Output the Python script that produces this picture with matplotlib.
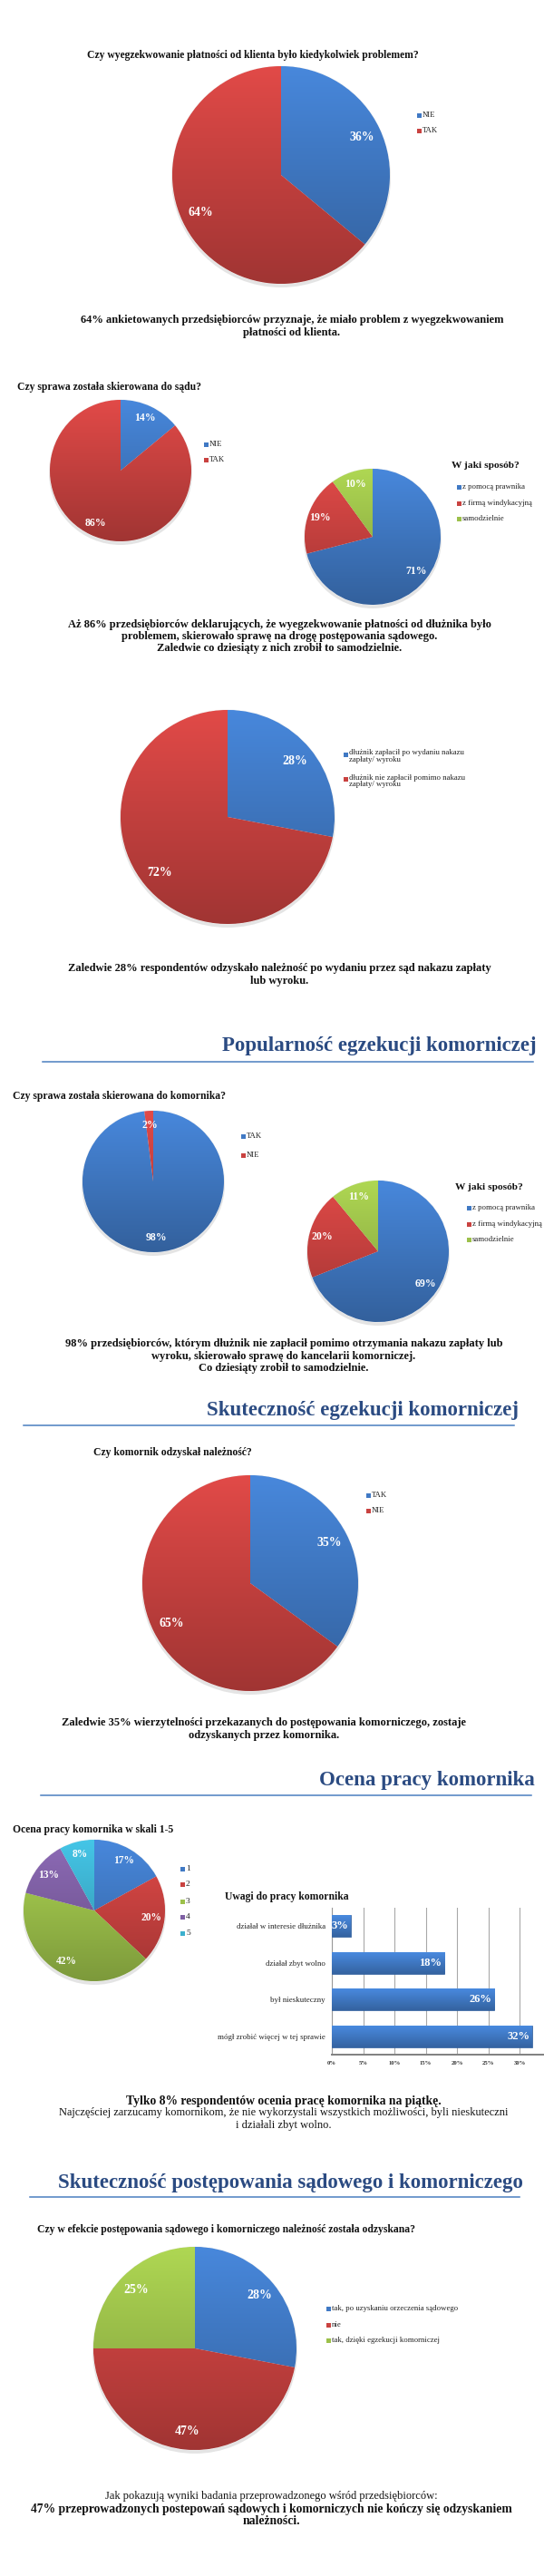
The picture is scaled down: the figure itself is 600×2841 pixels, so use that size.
import numpy as np
import matplotlib
matplotlib.use("Agg")
import matplotlib.pyplot as plt
from matplotlib.patches import Rectangle, Circle
from matplotlib.colors import to_rgb

# ---------------- data ----------------
p1_labels = ["NIE", "TAK"]
p1_values = [36, 64]

p2_labels = ["NIE", "TAK"]
p2_values = [14, 86]

p3_labels = ["z pomocą prawnika", "z firmą windykacyjną", "samodzielnie"]
p3_values = [71, 19, 10]

p4_labels = ["dłużnik zapłacił po wydaniu nakazu\nzapłaty/ wyroku",
             "dłużnik nie zapłacił pomimo nakazu\nzapłaty/ wyroku"]
p4_values = [28, 72]

p5_labels = ["TAK", "NIE"]
p5_values = [98, 2]

p6_labels = ["z pomocą prawnika", "z firmą windykacyjną", "samodzielnie"]
p6_values = [69, 20, 11]

p7_labels = ["TAK", "NIE"]
p7_values = [35, 65]

p8_labels = ["1", "2", "3", "4", "5"]
p8_values = [17, 20, 42, 13, 8]

bar_labels = ["działał w interesie dłużnika", "działał zbyt wolno",
              "był nieskuteczny", "mógł zrobić więcej w tej sprawie"]
bar_values = [3, 18, 26, 32]
bar_ticks = [0, 5, 10, 15, 20, 25, 30]

p9_labels = ["tak, po uzyskaniu orzeczenia sądowego", "nie",
             "tak, dzięki egzekucji komorniczej"]
p9_values = [28, 47, 25]

# ---------------- style ----------------
BLUE, RED, GREEN, PURPLE, CYAN = "#4079C4", "#C94240", "#9CC04A", "#7E5FA3", "#3DB0CE"
HEAD = "#2B4B82"
LINE = "#4A7EC0"
SERIF = ["Liberation Serif", "DejaVu Serif"]
plt.rcParams["font.family"] = SERIF

W, H = 600, 2841
fig = plt.figure(figsize=(W / 100, H / 100), dpi=100)
fig.patch.set_facecolor("white")
bg = fig.add_axes([0, 0, 1, 1])
bg.set_xlim(0, W)
bg.set_ylim(H, 0)
bg.axis("off")


def px_axes(x0, y0, w, h):
    return fig.add_axes([x0 / W, 1 - (y0 + h) / H, w / W, h / H])


def shade(c, f):
    return np.clip(np.array(to_rgb(c)) * f, 0, 1)


def gradient_fill(ax, patch, color, extent, top=1.12, bottom=0.80):
    n = 64
    t = np.linspace(0, 1, n)[:, None]
    img = shade(color, top)[None, :] * (1 - t)[..., None] + shade(color, bottom)[None, :] * t[..., None]
    img = np.clip(img, 0, 1)
    im = ax.imshow(img, extent=extent, origin="upper", aspect="auto",
                   zorder=patch.get_zorder() + 0.1, interpolation="bilinear")
    im.set_clip_path(patch)


def draw_pie(cx, cy, r, values, colors, fs, dist=0.82):
    ax = px_axes(cx - r - 4, cy - r - 4, 2 * r + 8, 2 * r + 8)
    ax.add_patch(Circle((0, -3.0 / r), 1.0 + 1.0 / r, facecolor="#cfcfcf", edgecolor="none",
                        alpha=0.55, zorder=0))
    wedges, _ = ax.pie(values, colors=colors, startangle=90, counterclock=False,
                       radius=1, wedgeprops=dict(edgecolor="#f2f2f2", linewidth=0.7))
    for w, c in zip(wedges, colors):
        gradient_fill(ax, w, c, (-1, 1, -1, 1))
    for w, v in zip(wedges, values):
        a = np.deg2rad((w.theta1 + w.theta2) / 2)
        ax.text(dist * np.cos(a), dist * np.sin(a), f"{v}%", ha="center", va="center",
                color="white", fontsize=fs, fontweight="bold", zorder=10)
    lim = 1 + 4 / r
    ax.set_xlim(-lim, lim)
    ax.set_ylim(-lim, lim)
    ax.set_aspect("equal")
    ax.axis("off")
    return ax


def legend(x, ys, labels, colors, fs=6.3):
    for y, lab, c in zip(ys, labels, colors):
        bg.add_patch(Rectangle((x, y - 2.5), 5, 5, facecolor=c, edgecolor="none"))
        bg.text(x + 6, y, lab, ha="left", va="center", fontsize=fs, color="#222222")


def caption(cx, ys, lines, fs=9.0, weights=None):
    for i, (y, t) in enumerate(zip(ys, lines)):
        wgt = "bold" if weights is None else weights[i]
        bg.text(cx, y, t, ha="center", va="center", fontsize=fs if not isinstance(fs, list) else fs[i],
                fontweight=wgt, color="#111111")


def heading(xr, y, text, x0, x1, ly):
    bg.text(xr, y, text, ha="right", va="center", fontsize=16.5, fontweight="bold", color=HEAD)
    bg.plot([x0, x1], [ly, ly], color=LINE, lw=1.1)


def title(x, y, text, fs=8.4, ha="left"):
    bg.text(x, y, text, ha=ha, va="center", fontsize=fs, fontweight="bold", color="#111111")


# ---------------- section 1 ----------------
title(279, 61, "Czy wyegzekwowanie płatności od klienta było kiedykolwiek problemem?", ha="center")
draw_pie(310, 193, 120, p1_values, [BLUE, RED], 10)
legend(460, [127, 144], p1_labels, [BLUE, RED])
caption(322, [353, 367], ["64% ankietowanych przedsiębiorców przyznaje, że miało problem z wyegzekwowaniem",
                          "płatności od klienta."])

# ---------------- section 2 ----------------
title(19, 427, "Czy sprawa została skierowana do sądu?")
draw_pie(133, 519, 78, p2_values, [BLUE, RED], 8.5)
legend(225, [490, 507], p2_labels, [BLUE, RED])
draw_pie(411, 592, 75, p3_values, [BLUE, RED, GREEN], 8.5)
title(498, 514, "W jaki sposób?", fs=8.2)
legend(504, [537, 555, 572], p3_labels, [BLUE, RED, GREEN])
caption(308, [689, 702, 715], ["Aż 86% przedsiębiorców deklarujących, że wyegzekwowanie płatności od dłużnika było",
                               "problemem, skierowało sprawę na drogę postępowania sądowego.",
                               "Zaledwie co dziesiąty z nich zrobił to samodzielnie."])

# ---------------- section 3 ----------------
draw_pie(251, 901, 118, p4_values, [BLUE, RED], 10)
for y, lab, c in zip([832, 859], p4_labels, [BLUE, RED]):
    bg.add_patch(Rectangle((379, y - 2.5), 5, 5, facecolor=c, edgecolor="none"))
    bg.text(385, y - 5.5, lab, ha="left", va="top", fontsize=6.3, color="#222222", linespacing=0.95)
caption(308, [1068, 1082], ["Zaledwie 28% respondentów odzyskało należność po wydaniu przez sąd nakazu zapłaty",
                            "lub wyroku."])
heading(592, 1154, "Popularność egzekucji komorniczej", 47, 588, 1171)

# ---------------- section 4 ----------------
title(14, 1209, "Czy sprawa została skierowana do komornika?")
draw_pie(169, 1303, 78, p5_values, [BLUE, RED], 8.5, dist=0.8)
legend(266, [1253, 1274], p5_labels, [BLUE, RED])
draw_pie(417, 1380, 78, p6_values, [BLUE, RED, GREEN], 8.5)
title(502, 1309, "W jaki sposób?", fs=8.2)
legend(515, [1332, 1350, 1367], p6_labels, [BLUE, RED, GREEN])
caption(313, [1482, 1496, 1509], ["98% przedsiębiorców, którym dłużnik nie zapłacił pomimo otrzymania nakazu zapłaty lub",
                                  "wyroku, skierowało sprawę do kancelarii komorniczej.",
                                  "Co dziesiąty zrobił to samodzielnie."])
heading(572, 1555, "Skuteczność egzekucji komorniczej", 26, 567, 1572)

# ---------------- section 5 ----------------
title(103, 1602, "Czy komornik odzyskał należność?")
draw_pie(276, 1746, 119, p7_values, [BLUE, RED], 10)
legend(404, [1649, 1666], p7_labels, [BLUE, RED])
caption(291, [1900, 1914], ["Zaledwie 35% wierzytelności przekazanych do postępowania komorniczego, zostaje",
                            "odzyskanych przez komornika."])
heading(590, 1963, "Ocena pracy komornika", 45, 586, 1980)

# ---------------- section 6 ----------------
title(14, 2018, "Ocena pracy komornika w skali 1-5")
draw_pie(104, 2107, 78, p8_values, [BLUE, RED, GREEN, PURPLE, CYAN], 8.3)
legend(199, [2061, 2078, 2097, 2114, 2132], p8_labels, [BLUE, RED, GREEN, PURPLE, CYAN], fs=6.8)

title(248, 2092, "Uwagi do pracy komornika", fs=8.4)
bx = px_axes(366, 2104, 234, 162)
ypos = np.arange(len(bar_values))
bars = bx.barh(ypos, bar_values, height=0.6, color=BLUE, edgecolor="#2d5a96", linewidth=0.5, zorder=3)
for b in bars:
    x0, y0 = b.get_x(), b.get_y()
    gradient_fill(bx, b, BLUE, (x0, x0 + b.get_width(), y0 + b.get_height(), y0), top=1.15, bottom=0.82)
for b, v in zip(bars, bar_values):
    bx.text(b.get_width() - 0.4, b.get_y() + b.get_height() / 2, f"{v}%", ha="right", va="center",
            color="white", fontsize=9, fontweight="bold", zorder=10)
bx.set_xlim(0, 33.9)
bx.set_ylim(len(bar_values) - 0.5, -0.5)
bx.set_yticks(ypos)
bx.set_yticklabels(bar_labels, fontsize=6.4, color="#222222")
bx.set_xticks(bar_ticks)
bx.set_xticklabels([f"{t}%" for t in bar_ticks], fontsize=4.8, fontweight="bold", color="#333333")
bx.tick_params(axis="y", length=0, pad=5)
bx.tick_params(axis="x", length=0, pad=5)
bx.grid(axis="x", color="#a8a8a8", lw=0.8, zorder=0)
bx.set_axisbelow(True)
for s in ["top", "right"]:
    bx.spines[s].set_visible(False)
bx.spines["left"].set_color("#9a9a9a")
bx.spines["bottom"].set_color("#808080")
bx.spines["bottom"].set_linewidth(1.4)
bx.set_facecolor("none")

caption(313, [2317, 2330, 2344], ["Tylko 8% respondentów ocenia pracę komornika na piątkę.",
                                  "Najczęściej zarzucamy komornikom, że nie wykorzystali wszystkich możliwości, byli nieskuteczni",
                                  "i działali zbyt wolno."],
        fs=[9.8, 8.9, 8.9], weights=["bold", "normal", "normal"])

# ---------------- section 7 ----------------
heading(577, 2407, "Skuteczność postępowania sądowego i komorniczego", 33, 573, 2423)
title(41, 2459, "Czy w efekcie postępowania sądowego i komorniczego należność została odzyskana?")
draw_pie(215, 2590, 112, p9_values, [BLUE, RED, GREEN], 10)
legend(360, [2546, 2564, 2581], p9_labels, [BLUE, RED, GREEN])
caption(299, [2753, 2767, 2780], ["Jak pokazują wyniki badania przeprowadzonego wśród przedsiębiorców:",
                                  "47% przeprowadzonych postepowań sądowych i komorniczych nie kończy się odzyskaniem",
                                  "należności."],
        fs=[9.0, 9.8, 9.8], weights=["normal", "bold", "bold"])

fig.savefig("out.png", dpi=100, facecolor="white")
